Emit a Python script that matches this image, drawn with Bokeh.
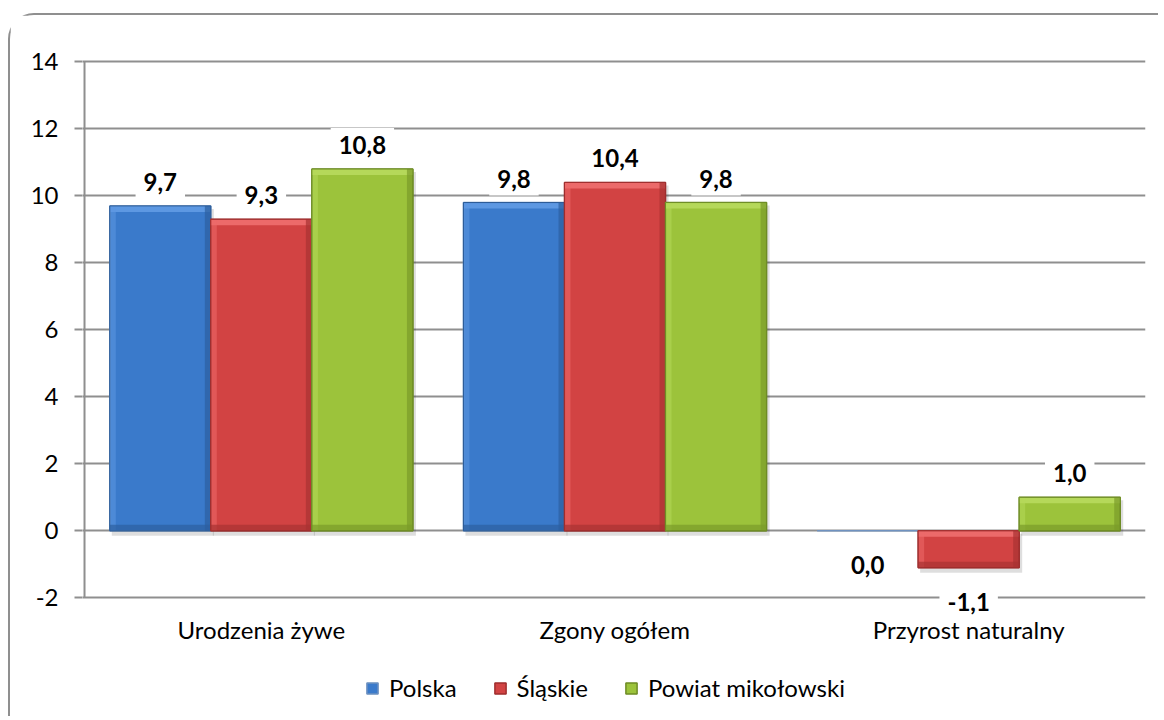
from bokeh.plotting import figure
from bokeh.models import (ColumnDataSource, Label, FixedTicker, Range1d, Legend,
                          LegendItem)
from bokeh.embed import file_html
from bokeh.resources import INLINE

categories = ["Urodzenia żywe", "Zgony ogółem", "Przyrost naturalny"]
series_names = ["Polska", "Śląskie", "Powiat mikołowski"]
polska = [9.7, 9.8, 0.0]
slaskie = [9.3, 10.4, -1.1]
powiat = [10.8, 9.8, 1.0]
y_ticks = [-2, 0, 2, 4, 6, 8, 10, 12, 14]

colors = ["#3a7acb", "#d24343", "#9cc33b"]
light = ["#5d98e2", "#ec6a6a", "#b5d85a"]
dark = ["#2c5f9f", "#a83232", "#7a9b2a"]
edge = ["#2a5a96", "#9e2e2e", "#6e8c26"]
GRID = "#8f8f8f"

FONT = "Lato"
W, H = 1150, 703
TOP, LEFT, RIGHT = 43, 72, 15
PPU = 33.5  # pixels per y unit
X0, X1 = -0.5 - 0.0057, 2.5
Y1 = 14.1
Y0 = Y1 - (H - TOP) / PPU
p = figure(width=W, height=H, output_backend="svg", toolbar_location=None,
           x_range=Range1d(X0, X1), y_range=Range1d(Y0, Y1),
           min_border_left=LEFT, min_border_right=RIGHT, min_border_top=TOP,
           min_border_bottom=0)
p.styles = {"margin-left": "8px", "margin-top": "13px",
            "border-left": f"2px solid {GRID}", "border-top": f"2px solid {GRID}",
            "border-top-left-radius": "26px"}
p.outline_line_color = None
p.background_fill_color = "white"
p.border_fill_color = "white"

# axes
p.xaxis.visible = False
p.xgrid.grid_line_color = None
p.ygrid.grid_line_color = GRID
p.ygrid.grid_line_width = 2
p.yaxis.ticker = FixedTicker(ticks=y_ticks)
p.yaxis.major_label_overrides = {t: str(t) for t in y_ticks}
p.yaxis.axis_line_color = None
p.yaxis.major_tick_line_color = GRID
p.yaxis.major_tick_line_width = 2
p.yaxis.major_tick_out = 8
p.yaxis.major_tick_in = 0
p.yaxis.minor_tick_line_color = None
p.yaxis.major_label_standoff = 16
p.yaxis.major_label_text_font = FONT
p.yaxis.major_label_text_font_size = "24px"
p.yaxis.major_label_text_color = "#000000"

# y axis line from -2 to 14
p.segment(x0=[-0.5], y0=[y_ticks[0]], x1=[-0.5], y1=[y_ticks[-1]],
          line_color=GRID, line_width=2)

# category labels below the -2 line
for i, c in enumerate(categories):
    p.add_layout(Label(x=i, y=y_ticks[0], text=c, y_offset=-32,
                       text_align="center", text_baseline="middle",
                       text_font=FONT, text_font_size="24px",
                       text_color="#000000"))

bw = 1 / 3.5
px_x = bw / 101.0
px_y = 1 / PPU
offsets = [-bw, 0.0, bw]
series = [polska, slaskie, powiat]

renderers = []
for si, vals in enumerate(series):
    xs = [i + offsets[si] for i in range(len(categories))]
    tops = [max(v, 0) for v in vals]
    bots = [min(v, 0) for v in vals]
    nz = [k for k, v in enumerate(vals) if v != 0]
    # shadow
    sh = ColumnDataSource(dict(
        l=[xs[k] - bw / 2 + 2 * px_x for k in nz],
        r=[xs[k] + bw / 2 + 3 * px_x for k in nz],
        t=[tops[k] - 3 * px_y for k in nz],
        b=[bots[k] - 5 * px_y for k in nz]))
    p.quad(left="l", right="r", top="t", bottom="b", source=sh,
           fill_color="black", fill_alpha=0.13, line_color=None)
    src = ColumnDataSource(dict(x=xs, top=tops, bottom=bots))
    r = p.vbar(x="x", top="top", bottom="bottom", width=bw, source=src,
               fill_color=colors[si], line_color=edge[si] if si else "#6f92c0",
               line_width=1.5)
    renderers.append(r)
    # bevels
    bev = 6
    L = [xs[k] - bw / 2 for k in nz]
    R = [xs[k] + bw / 2 for k in nz]
    T = [tops[k] for k in nz]
    B = [bots[k] for k in nz]
    p.quad(left=L, right=R, top=T, bottom=[t - bev * px_y for t in T],
           fill_color=light[si], line_color=None)
    p.quad(left=L, right=[l + bev * px_x for l in L], top=T, bottom=B,
           fill_color=light[si], fill_alpha=0.55, line_color=None)
    p.quad(left=[r_ - bev * px_x for r_ in R], right=R, top=T, bottom=B,
           fill_color=dark[si], fill_alpha=0.7, line_color=None)
    p.quad(left=L, right=R, top=[b + bev * px_y for b in B], bottom=B,
           fill_color=dark[si], fill_alpha=0.7, line_color=None)
    p.quad(left=L, right=R, top=T, bottom=B, fill_color=None,
           line_color=edge[si], line_width=1)
    for k, v in enumerate(vals):
        p.add_layout(Label(x=xs[k], y=v, text=f"{v:.1f}".replace(".", ","),
                           y_offset=24 if v > 0 else -34,
                           text_align="center", text_baseline="middle",
                           text_font=FONT, text_font_style="bold",
                           text_font_size="24px", text_color="#000000",
                           background_fill_color="white", padding=8))

legend = Legend(items=[LegendItem(label=n, renderers=[r])
                       for n, r in zip(series_names, renderers)],
                orientation="horizontal", location=(283, 16),
                glyph_width=14, glyph_height=14, label_standoff=10, spacing=36,
                padding=0, margin=0, border_line_color=None,
                background_fill_alpha=0,
                label_text_font=FONT, label_text_font_size="24px",
                label_text_color="#000000")
p.add_layout(legend, "center")

open("out.html", "w").write(file_html(p, INLINE))
